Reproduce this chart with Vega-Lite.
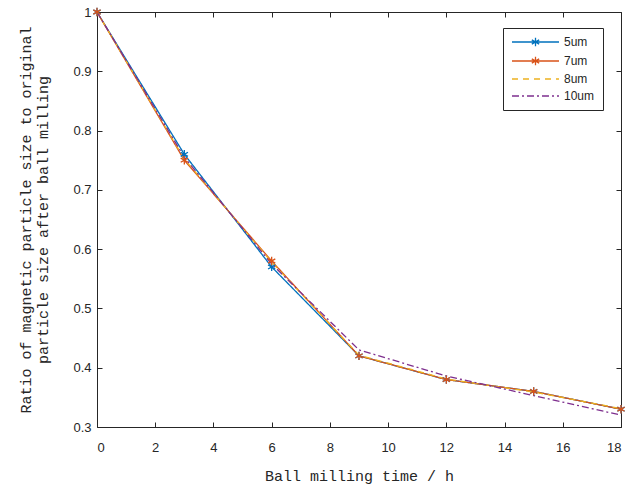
{
  "$schema": "https://vega.github.io/schema/vega-lite/v6.json",
  "autosize": "none",
  "padding": {"left": 97, "top": 12, "right": 16, "bottom": 63},
  "width": 524,
  "height": 415,
  "background": "white",
  "config": {
    "view": {"stroke": null},
    "axis": {"grid": false, "domainColor": "#262626", "tickColor": "#262626", "labelColor": "#262626", "labelFont": "Liberation Sans", "labelFontSize": 13, "titleFont": "Liberation Mono", "titleFontWeight": "normal", "titleFontSize": 15, "titleColor": "#262626", "tickSize": -5, "domainWidth": 1, "tickWidth": 1}
  },
  "data": {"values": [
    {"t": 0, "size": "5um", "ratio": 1}, {"t": 3, "size": "5um", "ratio": 0.76}, {"t": 6, "size": "5um", "ratio": 0.57}, {"t": 9, "size": "5um", "ratio": 0.42}, {"t": 12, "size": "5um", "ratio": 0.38}, {"t": 15, "size": "5um", "ratio": 0.36}, {"t": 18, "size": "5um", "ratio": 0.33},
    {"t": 0, "size": "7um", "ratio": 1}, {"t": 3, "size": "7um", "ratio": 0.75}, {"t": 6, "size": "7um", "ratio": 0.58}, {"t": 9, "size": "7um", "ratio": 0.42}, {"t": 12, "size": "7um", "ratio": 0.38}, {"t": 15, "size": "7um", "ratio": 0.36}, {"t": 18, "size": "7um", "ratio": 0.33},
    {"t": 0, "size": "8um", "ratio": 1}, {"t": 3, "size": "8um", "ratio": 0.752}, {"t": 6, "size": "8um", "ratio": 0.578}, {"t": 9, "size": "8um", "ratio": 0.421}, {"t": 12, "size": "8um", "ratio": 0.381}, {"t": 15, "size": "8um", "ratio": 0.359}, {"t": 18, "size": "8um", "ratio": 0.331},
    {"t": 0, "size": "10um", "ratio": 1}, {"t": 3, "size": "10um", "ratio": 0.755}, {"t": 6, "size": "10um", "ratio": 0.575}, {"t": 9, "size": "10um", "ratio": 0.43}, {"t": 12, "size": "10um", "ratio": 0.386}, {"t": 15, "size": "10um", "ratio": 0.353}, {"t": 18, "size": "10um", "ratio": 0.32}
  ]},
  "resolve": {"axis": {"x": "independent", "y": "independent"}},
  "layer": [
    {
      "mark": {"type": "line", "strokeWidth": 1.3},
      "encoding": {
        "x": {"field": "t", "type": "quantitative", "scale": {"domain": [0, 18], "nice": false, "zero": false}, "axis": {"values": [0, 2, 4, 6, 8, 10, 12, 14, 16, 18], "title": "Ball milling time / h", "labelPadding": 19, "titlePadding": 14}},
        "y": {"field": "ratio", "type": "quantitative", "scale": {"domain": [0.3, 1], "nice": false, "zero": false}, "axis": {"values": [0.3, 0.4, 0.5, 0.6, 0.7, 0.8, 0.9, 1], "labelExpr": "datum.value == 1 ? '1' : format(datum.value, '.1f')", "title": ["Ratio of magnetic particle size to original", "particle size after ball milling"], "labelPadding": 11, "titlePadding": 22, "titleLineHeight": 17}},
        "color": {"field": "size", "type": "nominal", "sort": ["5um", "7um", "8um", "10um"], "scale": {"domain": ["5um", "7um", "8um", "10um"], "range": ["#0072BD", "#D95319", "#EDB120", "#7E2F8E"]},
          "legend": {"title": null, "orient": "none", "legendX": 406, "legendY": 16, "strokeColor": "#262626", "fillColor": "white", "padding": 8, "symbolType": "stroke", "symbolSize": 100, "symbolStrokeWidth": 1.3, "labelFont": "Liberation Sans", "labelFontSize": 12, "labelColor": "#262626", "rowPadding": 5, "labelOffset": 41,
            "encode": {"symbols": {"update": {"shape": {"signal": "datum.value === '5um' || datum.value === '7um' ? 'M-1,0L8.4,0M3.7,-0.85L3.7,0.85M2.96,-0.43L4.44,0.43M2.96,0.43L4.44,-0.43' : 'M-1,0L8.4,0'"}}}}}},
        "strokeDash": {"field": "size", "type": "nominal", "sort": ["5um", "7um", "8um", "10um"], "scale": {"domain": ["5um", "7um", "8um", "10um"], "range": [[1, 0], [1, 0], [6, 5], [7, 3, 2, 3]]}}
      }
    },
    {
      "transform": [{"filter": "datum.size === '5um' || datum.size === '7um'"}],
      "mark": {"type": "point", "filled": false, "shape": "M0,-1L0,1M-0.87,-0.5L0.87,0.5M-0.87,0.5L0.87,-0.5", "size": 70, "strokeWidth": 1.3, "opacity": 1},
      "encoding": {
        "x": {"field": "t", "type": "quantitative", "axis": null},
        "y": {"field": "ratio", "type": "quantitative", "axis": null},
        "color": {"field": "size", "type": "nominal", "legend": null}
      }
    },
    {
      "mark": {"type": "point", "opacity": 0},
      "encoding": {
        "x": {"field": "t", "type": "quantitative", "axis": {"orient": "top", "values": [0, 2, 4, 6, 8, 10, 12, 14, 16, 18], "labels": false, "title": null}},
        "y": {"field": "ratio", "type": "quantitative", "axis": {"orient": "right", "values": [0.3, 0.4, 0.5, 0.6, 0.7, 0.8, 0.9, 1], "labels": false, "title": null}}
      }
    }
  ]
}
